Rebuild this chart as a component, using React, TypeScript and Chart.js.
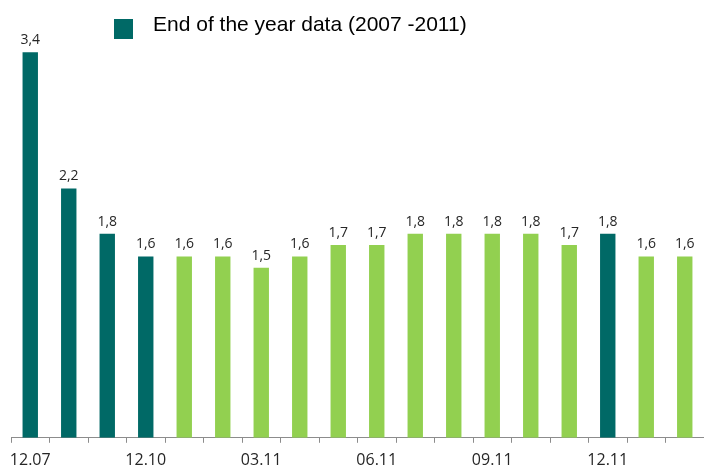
import React, { useEffect, useRef } from "react";
import { Chart, registerables } from "chart.js";

Chart.register(...registerables);

const categories = ["12.07", "12.08", "12.09", "12.10", "01.11", "02.11", "03.11", "04.11", "05.11", "06.11", "07.11", "08.11", "09.11", "10.11", "11.11", "12.11", "01.12", "02.12"];
const values = [3.4, 2.2, 1.8, 1.6, 1.6, 1.6, 1.5, 1.6, 1.7, 1.7, 1.8, 1.8, 1.8, 1.8, 1.7, 1.8, 1.6, 1.6];
const yearEnd = [true, true, true, true, false, false, false, false, false, false, false, false, false, false, false, true, false, false];
const legendText = "End of the year data (2007 -2011)";

const TEAL = "#006966";
const GREEN = "#92D050";

export default function App() {
  const ref = useRef<HTMLCanvasElement>(null);
  useEffect(() => {
    const valueLabels = {
      id: "valueLabels",
      afterDatasetsDraw(chart: any) {
        const ctx = chart.ctx;
        const meta = chart.getDatasetMeta(0);
        ctx.save();
        ctx.font = "14px 'Open Sans', sans-serif";
        ctx.fillStyle = "#262626";
        ctx.textAlign = "center";
        ctx.textBaseline = "alphabetic";
        meta.data.forEach((bar: any, i: number) => {
          ctx.fillText(values[i].toFixed(1).replace(".", ","), bar.x, bar.y - 8);
        });
        ctx.restore();
      },
    };
    const legendPlugin = {
      id: "legendPlugin",
      afterDraw(chart: any) {
        const ctx = chart.ctx;
        ctx.save();
        ctx.fillStyle = TEAL;
        ctx.fillRect(114, 19, 19, 20);
        ctx.fillStyle = "#000";
        ctx.font = "21px 'Liberation Sans', Arial, sans-serif";
        ctx.textBaseline = "middle";
        ctx.textAlign = "left";
        ctx.fillText(legendText, 153, 25);
        ctx.restore();
      },
    };
    const chart = new Chart(ref.current!, {
      type: "bar",
      data: {
        labels: categories,
        datasets: [
          {
            label: legendText,
            data: values,
            backgroundColor: yearEnd.map((y) => (y ? TEAL : GREEN)),
            barPercentage: 0.4,
            categoryPercentage: 1,
          },
        ],
      },
      options: {
        animation: false,
        responsive: false,
        maintainAspectRatio: false,
        layout: { padding: { top: 41, left: 11, right: 0, bottom: -10 } },
        plugins: { legend: { display: false }, tooltip: { enabled: false } },
        scales: {
          x: {
            offset: true,
            grid: { offset: true, drawOnChartArea: false, tickLength: 5, color: "#8c8c8c" },
            border: { color: "#8c8c8c" },
            ticks: {
              autoSkip: false,
              maxRotation: 0,
              color: "#262626",
              font: { family: "'Open Sans', sans-serif", size: 16 },
              padding: 8,
              callback: (_v: any, i: number) => (i % 3 === 0 ? categories[i] : ""),
            },
          },
          y: { display: false, min: 0, max: 3.5 },
        },
      },
      plugins: [valueLabels, legendPlugin],
    });
    return () => chart.destroy();
  }, []);
  return (
    <div style={{ position: "fixed", left: 0, top: 0, width: 704, height: 468, background: "#fff" }}>
      <canvas ref={ref} width={704} height={468} style={{ width: 704, height: 468 }} />
    </div>
  );
}
